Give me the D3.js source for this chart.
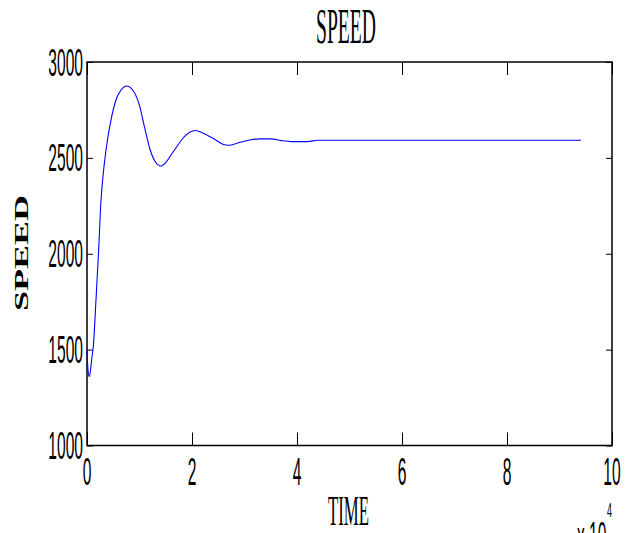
<!DOCTYPE html>
<meta charset="utf-8">
<style>
body { margin: 0; background: #fff; }
svg { display: block; }
.axis .domain { display: none; }
.axis line { stroke: #000; stroke-width: 1; }
</style>
<body>
<svg width="638" height="533"></svg>
<script src="https://d3js.org/d3.v7.min.js"></script>
<script>
// speed response (time in samples, speed in rpm)
var times = [0, 200, 440, 700, 950, 1200, 1710, 2220, 2670, 2980, 3620, 4570, 5520, 6480, 7560,
             8700, 9970, 11000, 12000, 13000, 14100, 15000, 16000, 17100, 18500, 20700, 22000,
             24000, 26000, 27000, 29000, 31000, 33000, 35000, 37000, 39000, 42000, 44000, 60000, 80000, 94100];
var speed = [1500, 1390, 1359, 1400, 1463, 1515, 1759, 2020, 2280, 2385, 2541, 2698, 2802, 2854, 2875,
             2854, 2776, 2655, 2545, 2480, 2458, 2475, 2515, 2558, 2610, 2643, 2630,
             2602, 2570, 2566, 2580, 2593, 2599, 2599, 2590, 2585, 2585, 2592, 2592, 2592, 2592];
var xTicks = [0, 20000, 40000, 60000, 80000, 100000];
var yTicks = [1000, 1500, 2000, 2500, 3000];

var svg = d3.select("svg"),
    margin = {top: 62, right: 26, bottom: 87.5, left: 87},
    width = +svg.attr("width") - margin.left - margin.right,
    height = +svg.attr("height") - margin.top - margin.bottom,
    g = svg.append("g").attr("transform", "translate(" + margin.left + "," + margin.top + ")");

var x = d3.scaleLinear().domain([0, 100000]).range([0, width]);
var y = d3.scaleLinear().domain([1000, 3000]).range([height, 0]);

// ticks pointing inward on all four sides
g.append("g").attr("class", "axis")
    .attr("transform", "translate(0," + height + ")")
    .call(d3.axisBottom(x).tickValues(xTicks).tickSizeInner(-13).tickSizeOuter(0).tickFormat(""));
g.append("g").attr("class", "axis")
    .call(d3.axisTop(x).tickValues(xTicks).tickSizeInner(-13).tickSizeOuter(0).tickFormat(""));
g.append("g").attr("class", "axis")
    .call(d3.axisLeft(y).tickValues(yTicks).tickSizeInner(-6).tickSizeOuter(0).tickFormat(""));
g.append("g").attr("class", "axis")
    .attr("transform", "translate(" + width + ",0)")
    .call(d3.axisRight(y).tickValues(yTicks).tickSizeInner(-6).tickSizeOuter(0).tickFormat(""));

g.append("rect")
    .attr("width", width)
    .attr("height", height)
    .attr("fill", "none")
    .attr("stroke", "#000")
    .attr("stroke-width", 1.5);

// squeezed tick labels
g.append("g").selectAll("g")
    .data(xTicks)
  .enter().append("g")
    .attr("transform", function(d) { return "translate(" + x(d) + "," + (height + 39) + ")"; })
  .append("text")
    .attr("transform", "scale(0.41,1)")
    .attr("text-anchor", "middle")
    .attr("font-family", "Liberation Sans, Arial, sans-serif")
    .attr("font-size", 38)
    .text(function(d) { return d / 10000; });

g.append("g").selectAll("g")
    .data(yTicks)
  .enter().append("g")
    .attr("transform", function(d) { return "translate(-4," + y(d) + ")"; })
  .append("text")
    .attr("transform", "scale(0.41,1)")
    .attr("y", 13.5)
    .attr("text-anchor", "end")
    .attr("font-family", "Liberation Sans, Arial, sans-serif")
    .attr("font-size", 38)
    .text(function(d) { return d; });

var line = d3.line()
    .x(function(d, i) { return x(times[i]); })
    .y(function(d) { return y(d); })
    .curve(d3.curveMonotoneX);

g.append("path")
    .datum(speed)
    .attr("fill", "none")
    .attr("stroke", "#0000ff")
    .attr("stroke-width", 1.1)
    .attr("d", line);

// titles
svg.append("text")
    .attr("transform", "translate(346,43) scale(0.385,1)")
    .attr("text-anchor", "middle")
    .attr("font-family", "Liberation Serif, Times New Roman, serif")
    .attr("font-size", 51)
    .text("SPEED");

svg.append("text")
    .attr("transform", "translate(348.5,525) scale(0.4,1)")
    .attr("text-anchor", "middle")
    .attr("font-family", "Liberation Serif, Times New Roman, serif")
    .attr("font-size", 42)
    .text("TIME");

svg.append("text")
    .attr("transform", "translate(28,253) rotate(-90) scale(1.8,0.95)")
    .attr("text-anchor", "middle")
    .attr("font-family", "Liberation Serif, Times New Roman, serif")
    .attr("font-weight", "bold")
    .attr("font-size", 20)
    .text("SPEED");

svg.append("text")
    .attr("transform", "translate(577,549) scale(0.41,1)")
    .attr("font-family", "Liberation Sans, Arial, sans-serif")
    .attr("font-size", 38)
    .text("x 10");

svg.append("text")
    .attr("transform", "translate(607,517) scale(0.43,1)")
    .attr("font-family", "Liberation Sans, Arial, sans-serif")
    .attr("font-size", 21)
    .text("4");
</script>
</body>
